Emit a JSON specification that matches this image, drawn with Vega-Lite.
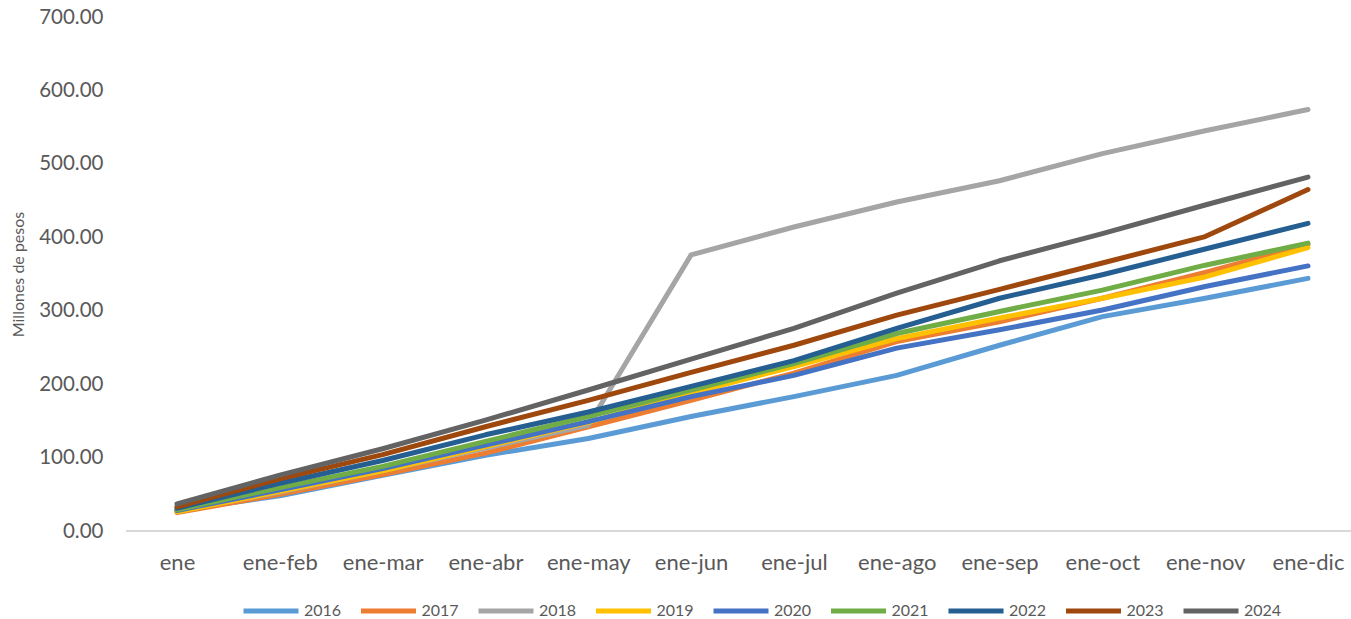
{
  "$schema": "https://vega.github.io/schema/vega-lite/v6.json",
  "width": 1225,
  "height": 514,
  "autosize": {"type": "none"},
  "padding": {"left": 126, "top": 17, "right": 0, "bottom": 88},
  "config": {
    "view": {"stroke": null},
    "font": "Lato",
    "axis": {"labelColor": "#595959", "titleColor": "#595959", "grid": false, "ticks": false, "domain": false}
  },
  "datasets": {
    "main": [
      {"year": "2016", "period": "ene", "value": 28},
      {"year": "2016", "period": "ene-feb", "value": 48},
      {"year": "2016", "period": "ene-mar", "value": 76},
      {"year": "2016", "period": "ene-abr", "value": 103},
      {"year": "2016", "period": "ene-may", "value": 126},
      {"year": "2016", "period": "ene-jun", "value": 156},
      {"year": "2016", "period": "ene-jul", "value": 183},
      {"year": "2016", "period": "ene-ago", "value": 212},
      {"year": "2016", "period": "ene-sep", "value": 253},
      {"year": "2016", "period": "ene-oct", "value": 292},
      {"year": "2016", "period": "ene-nov", "value": 317},
      {"year": "2016", "period": "ene-dic", "value": 344},
      {"year": "2017", "period": "ene", "value": 25},
      {"year": "2017", "period": "ene-feb", "value": 50},
      {"year": "2017", "period": "ene-mar", "value": 77},
      {"year": "2017", "period": "ene-abr", "value": 106},
      {"year": "2017", "period": "ene-may", "value": 142},
      {"year": "2017", "period": "ene-jun", "value": 178},
      {"year": "2017", "period": "ene-jul", "value": 215},
      {"year": "2017", "period": "ene-ago", "value": 258},
      {"year": "2017", "period": "ene-sep", "value": 285},
      {"year": "2017", "period": "ene-oct", "value": 317},
      {"year": "2017", "period": "ene-nov", "value": 352},
      {"year": "2017", "period": "ene-dic", "value": 390},
      {"year": "2018", "period": "ene", "value": 27},
      {"year": "2018", "period": "ene-feb", "value": 53},
      {"year": "2018", "period": "ene-mar", "value": 82},
      {"year": "2018", "period": "ene-abr", "value": 113},
      {"year": "2018", "period": "ene-may", "value": 144},
      {"year": "2018", "period": "ene-jun", "value": 376},
      {"year": "2018", "period": "ene-jul", "value": 414},
      {"year": "2018", "period": "ene-ago", "value": 448},
      {"year": "2018", "period": "ene-sep", "value": 477},
      {"year": "2018", "period": "ene-oct", "value": 514},
      {"year": "2018", "period": "ene-nov", "value": 545},
      {"year": "2018", "period": "ene-dic", "value": 574},
      {"year": "2019", "period": "ene", "value": 26},
      {"year": "2019", "period": "ene-feb", "value": 54},
      {"year": "2019", "period": "ene-mar", "value": 82},
      {"year": "2019", "period": "ene-abr", "value": 115},
      {"year": "2019", "period": "ene-may", "value": 148},
      {"year": "2019", "period": "ene-jun", "value": 188},
      {"year": "2019", "period": "ene-jul", "value": 224},
      {"year": "2019", "period": "ene-ago", "value": 262},
      {"year": "2019", "period": "ene-sep", "value": 290},
      {"year": "2019", "period": "ene-oct", "value": 317},
      {"year": "2019", "period": "ene-nov", "value": 346},
      {"year": "2019", "period": "ene-dic", "value": 386},
      {"year": "2020", "period": "ene", "value": 28},
      {"year": "2020", "period": "ene-feb", "value": 56},
      {"year": "2020", "period": "ene-mar", "value": 85},
      {"year": "2020", "period": "ene-abr", "value": 117},
      {"year": "2020", "period": "ene-may", "value": 149},
      {"year": "2020", "period": "ene-jun", "value": 183},
      {"year": "2020", "period": "ene-jul", "value": 212},
      {"year": "2020", "period": "ene-ago", "value": 249},
      {"year": "2020", "period": "ene-sep", "value": 274},
      {"year": "2020", "period": "ene-oct", "value": 301},
      {"year": "2020", "period": "ene-nov", "value": 333},
      {"year": "2020", "period": "ene-dic", "value": 361},
      {"year": "2021", "period": "ene", "value": 29},
      {"year": "2021", "period": "ene-feb", "value": 59},
      {"year": "2021", "period": "ene-mar", "value": 88},
      {"year": "2021", "period": "ene-abr", "value": 122},
      {"year": "2021", "period": "ene-may", "value": 156},
      {"year": "2021", "period": "ene-jun", "value": 192},
      {"year": "2021", "period": "ene-jul", "value": 228},
      {"year": "2021", "period": "ene-ago", "value": 269},
      {"year": "2021", "period": "ene-sep", "value": 299},
      {"year": "2021", "period": "ene-oct", "value": 328},
      {"year": "2021", "period": "ene-nov", "value": 362},
      {"year": "2021", "period": "ene-dic", "value": 392},
      {"year": "2022", "period": "ene", "value": 31},
      {"year": "2022", "period": "ene-feb", "value": 65},
      {"year": "2022", "period": "ene-mar", "value": 96},
      {"year": "2022", "period": "ene-abr", "value": 131},
      {"year": "2022", "period": "ene-may", "value": 162},
      {"year": "2022", "period": "ene-jun", "value": 197},
      {"year": "2022", "period": "ene-jul", "value": 232},
      {"year": "2022", "period": "ene-ago", "value": 276},
      {"year": "2022", "period": "ene-sep", "value": 317},
      {"year": "2022", "period": "ene-oct", "value": 349},
      {"year": "2022", "period": "ene-nov", "value": 384},
      {"year": "2022", "period": "ene-dic", "value": 419},
      {"year": "2023", "period": "ene", "value": 33},
      {"year": "2023", "period": "ene-feb", "value": 71},
      {"year": "2023", "period": "ene-mar", "value": 104},
      {"year": "2023", "period": "ene-abr", "value": 142},
      {"year": "2023", "period": "ene-may", "value": 178},
      {"year": "2023", "period": "ene-jun", "value": 216},
      {"year": "2023", "period": "ene-jul", "value": 253},
      {"year": "2023", "period": "ene-ago", "value": 294},
      {"year": "2023", "period": "ene-sep", "value": 329},
      {"year": "2023", "period": "ene-oct", "value": 365},
      {"year": "2023", "period": "ene-nov", "value": 401},
      {"year": "2023", "period": "ene-dic", "value": 465},
      {"year": "2024", "period": "ene", "value": 37},
      {"year": "2024", "period": "ene-feb", "value": 76},
      {"year": "2024", "period": "ene-mar", "value": 112},
      {"year": "2024", "period": "ene-abr", "value": 151},
      {"year": "2024", "period": "ene-may", "value": 192},
      {"year": "2024", "period": "ene-jun", "value": 234},
      {"year": "2024", "period": "ene-jul", "value": 276},
      {"year": "2024", "period": "ene-ago", "value": 324},
      {"year": "2024", "period": "ene-sep", "value": 368},
      {"year": "2024", "period": "ene-oct", "value": 405},
      {"year": "2024", "period": "ene-nov", "value": 444},
      {"year": "2024", "period": "ene-dic", "value": 482}
    ]
  },
  "data": {"name": "main"},
  "layer": [
    {
      "mark": {"type": "rule", "color": "#d9d9d9", "strokeWidth": 1.5},
      "encoding": {"y": {"datum": 0, "type": "quantitative"}}
    },
    {
      "mark": {"type": "line", "strokeWidth": 5, "strokeCap": "round", "strokeJoin": "round"},
      "encoding": {
        "x": {
          "field": "period", "type": "ordinal",
          "sort": ["ene", "ene-feb", "ene-mar", "ene-abr", "ene-may", "ene-jun", "ene-jul", "ene-ago", "ene-sep", "ene-oct", "ene-nov", "ene-dic"],
          "scale": {"type": "point", "range": [51, 1182], "padding": 0},
          "axis": {"title": null, "labelAngle": 0, "labelFontSize": 22, "labelPadding": 21}
        },
        "y": {
          "field": "value", "type": "quantitative",
          "scale": {"domain": [0, 700], "nice": false},
          "axis": {
            "title": "Millones de pesos", "format": ".2f", "values": [0, 100, 200, 300, 400, 500, 600, 700],
            "labelFontSize": 20.5, "labelPadding": 23, "titleFontSize": 16, "titleFontWeight": "normal",
            "titleX": -108, "titleY": 257, "titleAngle": -90, "titleAlign": "center", "titleBaseline": "middle"
          }
        },
        "color": {
          "field": "year", "type": "nominal",
          "scale": {
            "domain": ["2016", "2017", "2018", "2019", "2020", "2021", "2022", "2023", "2024"],
            "range": ["#5B9BD5", "#ED7D31", "#A5A5A5", "#FFC000", "#4472C4", "#70AD47", "#255E91", "#9E480E", "#636363"]
          },
          "legend": {
            "title": null, "orient": "none", "direction": "horizontal", "columns": 9,
            "legendX": 115, "legendY": 564,
            "symbolType": "stroke", "symbolSize": 3025, "symbolStrokeWidth": 5,
            "labelFontSize": 16, "labelColor": "#595959", "labelOffset": 3, "columnPadding": 8.5
          }
        },
        "order": {"field": "year"}
      }
    }
  ]
}
